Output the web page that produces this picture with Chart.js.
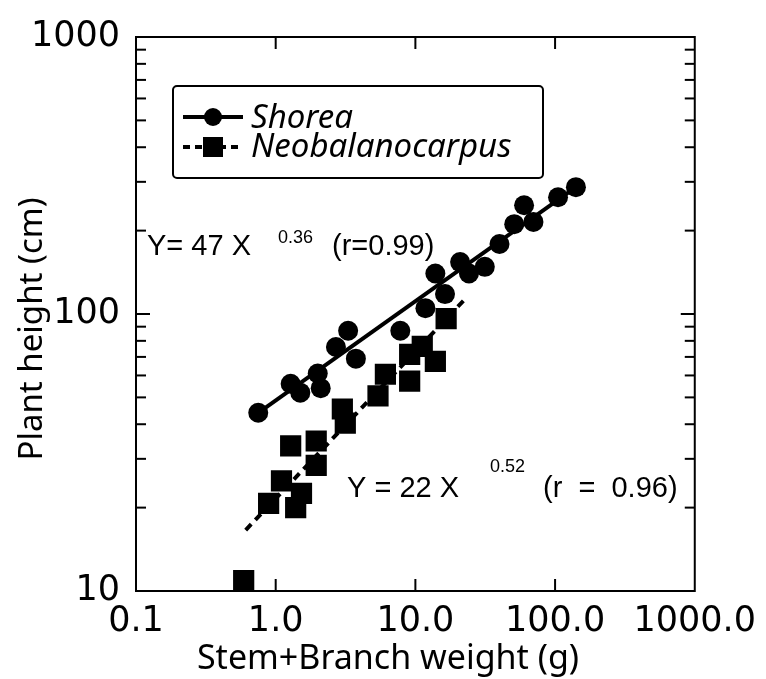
<!DOCTYPE html>
<html>
<head>
<meta charset="utf-8">
<script src="https://cdn.jsdelivr.net/npm/chart.js@4.4.1/dist/chart.umd.min.js"></script>
<style>
  html, body { margin: 0; padding: 0; background: #fff; }
  #wrap { position: relative; width: 766px; height: 679px; }
</style>
</head>
<body>
<div id="wrap"><canvas id="chart" width="766" height="679"></canvas></div>
<script>
// values (log-log)
const shoreaX = [0.75, 1.28, 1.5, 2.0, 2.1, 2.7, 3.3, 3.75, 7.8, 11.8, 13.9, 16.3, 20.9, 24.2, 31.4, 40, 51, 60, 70, 105, 141];
const shoreaY = [44, 56, 52, 61, 54, 76, 87, 69, 87, 105, 140, 118, 154, 140, 148, 179, 211, 247, 215, 264, 287];
const neoX = [0.59, 0.89, 1.1, 1.28, 1.39, 1.53, 1.95, 1.95, 3.0, 3.15, 5.4, 6.1, 9.1, 9.1, 11.2, 13.9, 16.6];
const neoY = [10.9, 20.7, 25, 33.4, 20, 22.5, 34.8, 28.4, 45.4, 40.4, 50.6, 60.6, 57.2, 71.5, 76.4, 67.5, 96.3];

// regression lines, end points as drawn
const shoreaFitX = [0.75, 141];
const shoreaFitY = [44, 287];
const neoFitX = [0.61, 23];
const neoFitY = [16.6, 114];

const xTicks = [0.1, 1, 10, 100, 1000];
const xTickLabels = ["0.1", "1.0", "10.0", "100.0", "1000.0"];
const yTicks = [10, 100, 1000];
const yTickLabels = ["10", "100", "1000"];
const yMinorTicks = [20, 30, 40, 50, 60, 70, 80, 90, 200, 300, 400, 500, 600, 700, 800, 900];

const seriesNames = ["Shorea", "Neobalanocarpus"];

const toPoints = (xs, ys) => xs.map((x, i) => ({ x, y: ys[i] }));

function line(ctx, x1, y1, x2, y2) {
    ctx.beginPath();
    ctx.moveTo(x1, y1);
    ctx.lineTo(x2, y2);
    ctx.stroke();
}

const framePlugin = {
    id: "frame",
    afterDraw(chart) {
        const ctx = chart.ctx;
        const { left, right, top, bottom } = chart.chartArea;
        const xs = chart.scales.x;
        const ys = chart.scales.y;

        ctx.save();
        ctx.strokeStyle = "#000";
        ctx.fillStyle = "#000";
        ctx.lineWidth = 2;
        ctx.strokeRect(left, top, right - left, bottom - top);

        // inward ticks on all four sides
        xTicks.slice(1, -1).forEach((v) => {
            const px = xs.getPixelForValue(v);
            line(ctx, px, bottom, px, bottom - 12);
            line(ctx, px, top, px, top + 12);
        });
        yMinorTicks.forEach((v) => {
            const py = ys.getPixelForValue(v);
            line(ctx, left, py, left + 10, py);
            line(ctx, right, py, right - 10, py);
        });
        yTicks.slice(1, -1).forEach((v) => {
            const py = ys.getPixelForValue(v);
            line(ctx, left, py, left + 14, py);
            line(ctx, right, py, right - 14, py);
        });

        // axis titles
        ctx.textAlign = "center";
        ctx.textBaseline = "middle";
        ctx.font = "34px 'Noto Sans'";
        ctx.fillText("Stem+Branch weight (g)", 388, 659);
        ctx.save();
        ctx.translate(33, 329);
        ctx.rotate(-Math.PI / 2);
        ctx.font = "33px 'Noto Sans'";
        ctx.fillText("Plant height (cm)", 0, 0);
        ctx.restore();

        // legend box
        ctx.beginPath();
        ctx.roundRect(173, 86, 370, 92, 4);
        ctx.stroke();
        ctx.lineWidth = 4;
        line(ctx, 183, 117, 243, 117);
        ctx.beginPath();
        ctx.arc(213, 117, 9, 0, Math.PI * 2);
        ctx.fill();
        ctx.setLineDash([7, 5]);
        line(ctx, 183, 147, 243, 147);
        ctx.setLineDash([]);
        ctx.fillRect(203, 137, 20, 20);
        ctx.textAlign = "left";
        ctx.textBaseline = "alphabetic";
        ctx.font = "italic 33px 'Noto Sans'";
        ctx.fillText(seriesNames[0], 251, 128);
        ctx.fillText(seriesNames[1], 251, 157);

        // regression equations
        ctx.font = "29px 'Liberation Sans'";
        ctx.fillText("Y= 47 X", 147, 255);
        ctx.fillText("(r=0.99)", 332, 255);
        ctx.fillText("Y = 22 X", 347, 497);
        ctx.fillText("(r  =  0.96)", 543, 497);
        ctx.font = "18px 'Liberation Sans'";
        ctx.fillText("0.36", 278, 243);
        ctx.fillText("0.52", 490, 472);
        ctx.restore();
    },
};

const axisFont = { family: "'DejaVu Sans'", size: 35 };

new Chart(document.getElementById("chart"), {
    type: "scatter",
    data: {
        datasets: [
            {
                label: seriesNames[0],
                data: toPoints(shoreaX, shoreaY),
                pointStyle: "circle",
                pointRadius: 10,
                backgroundColor: "#000",
                borderColor: "#000",
                borderWidth: 0,
            },
            {
                label: seriesNames[1],
                data: toPoints(neoX, neoY),
                pointStyle: "rect",
                pointRadius: 15,
                backgroundColor: "#000",
                borderColor: "#000",
                borderWidth: 0,
            },
            {
                label: "Shorea fit",
                data: toPoints(shoreaFitX, shoreaFitY),
                showLine: true,
                pointRadius: 0,
                borderColor: "#000",
                borderWidth: 4,
            },
            {
                label: "Neobalanocarpus fit",
                data: toPoints(neoFitX, neoFitY),
                showLine: true,
                pointRadius: 0,
                borderColor: "#000",
                borderWidth: 4,
                borderDash: [8, 6],
            },
        ],
    },
    options: {
        responsive: false,
        animation: false,
        layout: { padding: { top: 34, right: 69, left: 0, bottom: 0 } },
        plugins: { legend: { display: false }, tooltip: { enabled: false } },
        scales: {
            x: {
                type: "logarithmic",
                min: 0.1,
                max: 1000,
                afterBuildTicks: (scale) => { scale.ticks = xTicks.map((v) => ({ value: v })); },
                afterFit: (scale) => { scale.height = 88; },
                grid: { display: false, drawTicks: false },
                border: { display: false },
                ticks: {
                    callback: (v, i) => xTickLabels[i],
                    color: "#000",
                    font: axisFont,
                    padding: 10,
                    maxRotation: 0,
                    autoSkip: false,
                },
            },
            y: {
                type: "logarithmic",
                min: 10,
                max: 1000,
                afterBuildTicks: (scale) => { scale.ticks = yTicks.map((v) => ({ value: v })); },
                afterFit: (scale) => { scale.width = 136; },
                grid: { display: false, drawTicks: false },
                border: { display: false },
                ticks: {
                    callback: (v, i) => yTickLabels[i],
                    color: "#000",
                    font: axisFont,
                    padding: 16,
                    autoSkip: false,
                },
            },
        },
    },
    plugins: [framePlugin],
});
</script>
</body>
</html>
